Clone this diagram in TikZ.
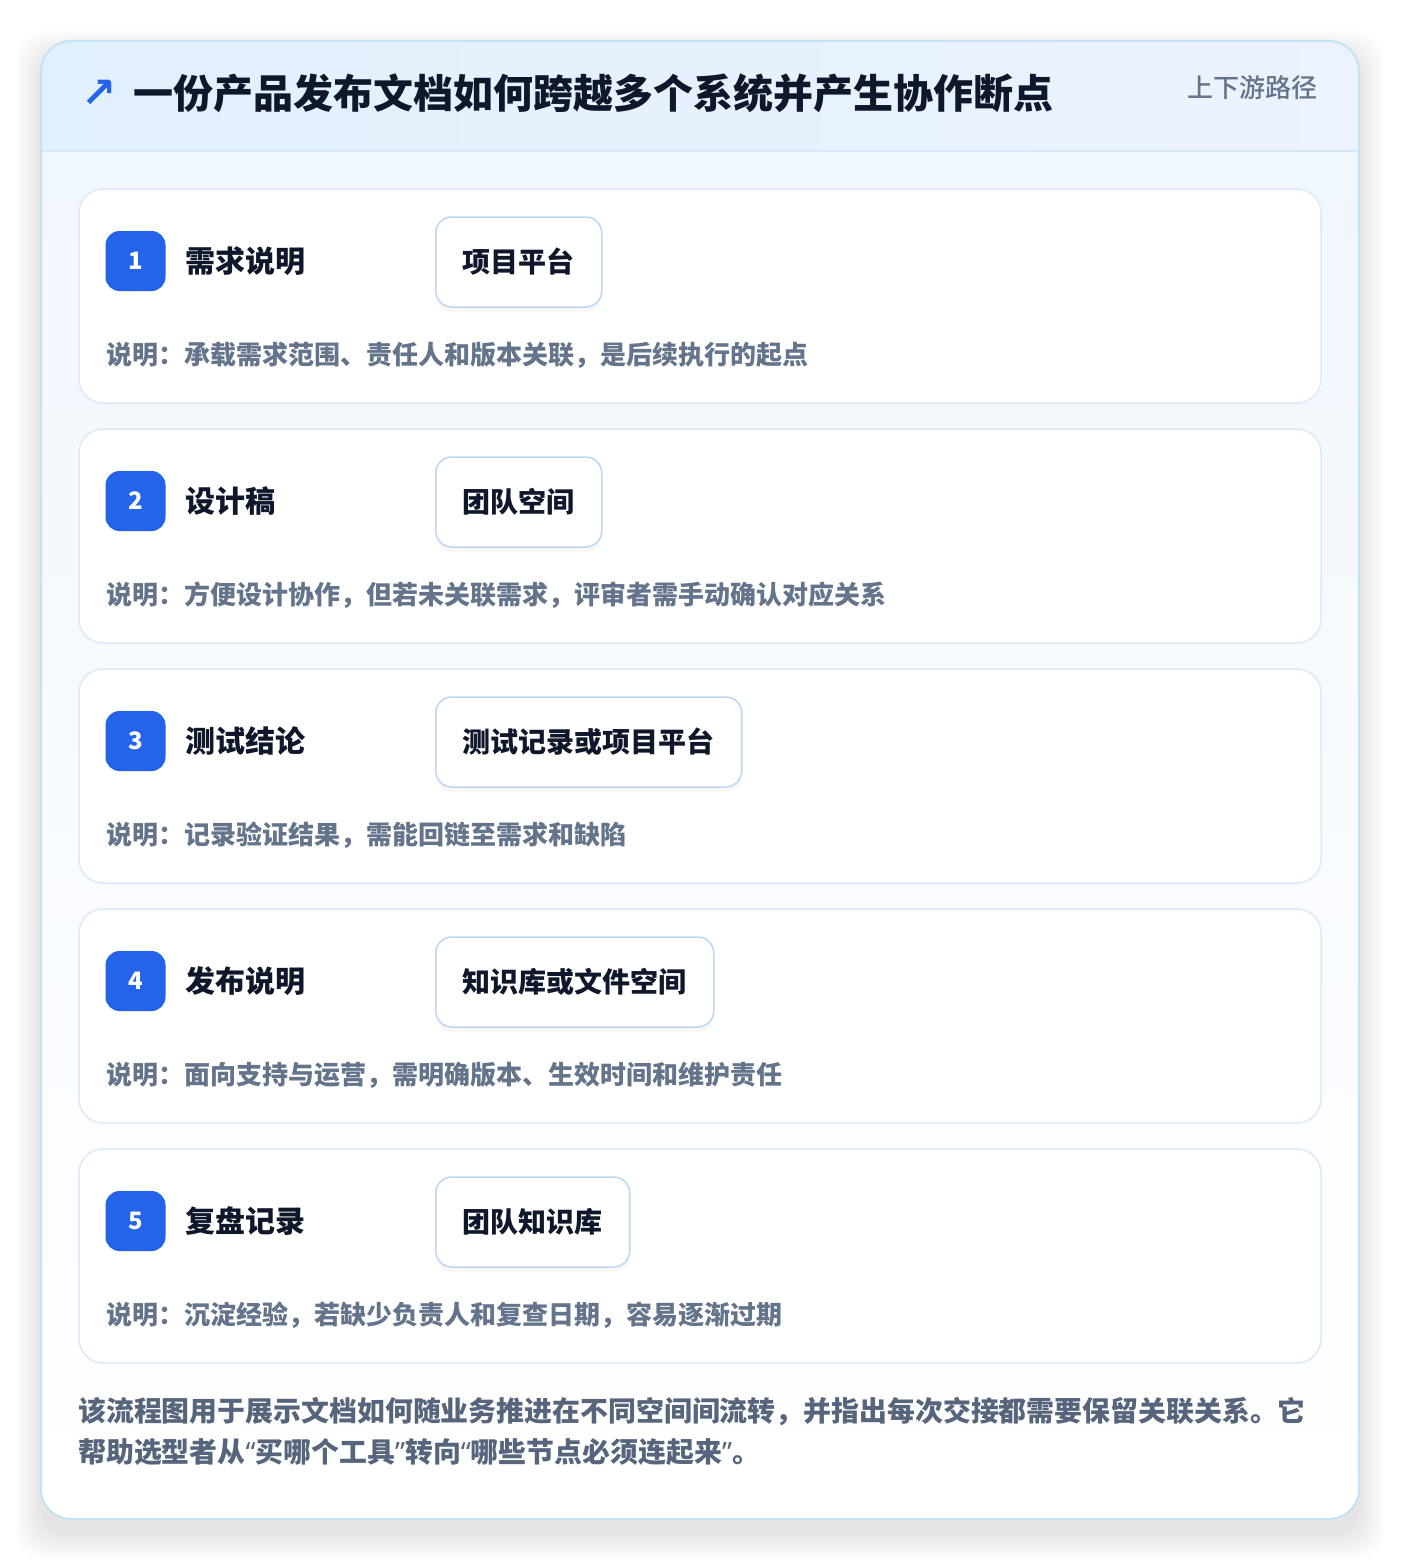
\documentclass[tikz,border=0pt]{standalone}
\usepackage{fontspec}
\setmainfont{Noto Sans CJK SC}
\newfontfamily\medfont{Noto Sans CJK SC}[UprightFont=* Medium]
\newfontfamily\arrowfont{DejaVu Sans}
\newfontfamily\quotefont{Noto Sans}
\usetikzlibrary{positioning,shadows}

\definecolor{ink}{HTML}{0F172A}
\definecolor{muted}{HTML}{64748B}
\definecolor{footgray}{HTML}{56657B}
\definecolor{badgeblue}{HTML}{2563EB}
\definecolor{frameline}{HTML}{C4E2F6}
\definecolor{headline}{HTML}{D6E8F8}
\definecolor{cardline}{HTML}{DCEAF8}
\definecolor{sysline}{HTML}{BCD7F4}
\definecolor{headleft}{HTML}{E1F0FD}
\definecolor{headright}{HTML}{ECF2FE}
\definecolor{bodytop}{HTML}{F1F7FE}

\newcommand{\pxfont}[2]{\fontsize{#1}{#2}\selectfont}
\newcommand{\openq}{{\quotefont\bfseries “}}
\newcommand{\closeq}{{\quotefont\bfseries ”}}

\tikzset{
  stepcard/.style={draw=cardline, line width=1.5pt, fill=white, rounded corners=24pt,
    minimum width=1242pt, minimum height=214pt, inner sep=0pt},
  badge/.style={fill=badgeblue, rounded corners=14pt, minimum size=60pt, inner sep=0pt,
    text=white, font=\pxfont{24}{28}\bfseries},
  steptitle/.style={anchor=west, inner sep=0pt, text=ink, font=\pxfont{30}{36}\bfseries},
  sysbox/.style={draw=sysline, line width=1.5pt, fill=white, rounded corners=16pt,
    minimum height=90pt, inner xsep=27pt, anchor=west, text=ink, font=\pxfont{28}{34}\bfseries,
    drop shadow={opacity=0.05, shadow xshift=0pt, shadow yshift=-5pt}},
  note/.style={anchor=west, inner sep=0pt, text=muted, font=\pxfont{26}{32}\bfseries},
}

\begin{document}
\begin{tikzpicture}[x=1pt,y=-1pt]
  \useasboundingbox (0,0) rectangle (1400,1560);
  \fill[white] (0,0) rectangle (1400,1560);

  % soft shadow of the panel
  \foreach \k in {1,...,26}
    \fill[black, opacity=0.005, rounded corners=30pt] (41-\k,56-\k) rectangle (1359+\k,1534+\k);

  % panel with header band
  \begin{scope}
    \clip[rounded corners=30pt] (41,41) rectangle (1359,1519);
    \shade[top color=bodytop, bottom color=white] (41,151) rectangle (1359,1519);
    \shade[left color=headleft, right color=headright] (41,41) rectangle (1359,151);
    \draw[headline, line width=1.5pt] (41,151) -- (1359,151);
  \end{scope}
  \draw[frameline, line width=2pt, rounded corners=30pt] (41,41) rectangle (1359,1519);

  \node[text=badgeblue, font=\arrowfont\pxfont{42}{48}\bfseries] (arrow) at (99,94) {↗};
  \node[anchor=west, inner sep=0pt, text=ink, font=\pxfont{40}{48}\bfseries] (heading) at (133,93)
    {一份产品发布文档如何跨越多个系统并产生协作断点};
  \node[anchor=east, inner sep=0pt, text=muted, font=\medfont\pxfont{26}{32}] (tag) at (1318,88)
    {上下游路径};

  % one card per step
  \foreach \i/\steptext/\systext/\notetext in {
    1/需求说明/项目平台/承载需求范围、责任人和版本关联，是后续执行的起点,
    2/设计稿/团队空间/方便设计协作，但若未关联需求，评审者需手动确认对应关系,
    3/测试结论/测试记录或项目平台/记录验证结果，需能回链至需求和缺陷,
    4/发布说明/知识库或文件空间/面向支持与运营，需明确版本、生效时间和维护责任,
    5/复盘记录/团队知识库/沉淀经验，若缺少负责人和复查日期，容易逐渐过期}
  {
    \pgfmathsetmacro{\cy}{296+240*(\i-1)}
    \node[stepcard] (card\i) at (700,\cy) {};
    \node[badge] (badge\i) at (135.5,\cy-35) {\i};
    \node[steptitle] (title\i) at (185,\cy-35) {\steptext};
    \node[sysbox] (sys\i) at (435,\cy-34) {\systext};
    \node[note] (note\i) at (106,\cy+59) {说明：\notetext};
  }

  \node[anchor=west, inner sep=0pt, align=left, text=footgray, font=\pxfont{27.9}{41}\bfseries] (summary) at (78,1431.5)
    {该流程图用于展示文档如何随业务推进在不同空间间流转，并指出每次交接都需要保留关联关系。它\\
     帮助选型者从\openq 买哪个工具\closeq 转向\openq 哪些节点必须连起来\closeq 。};
\end{tikzpicture}
\end{document}
